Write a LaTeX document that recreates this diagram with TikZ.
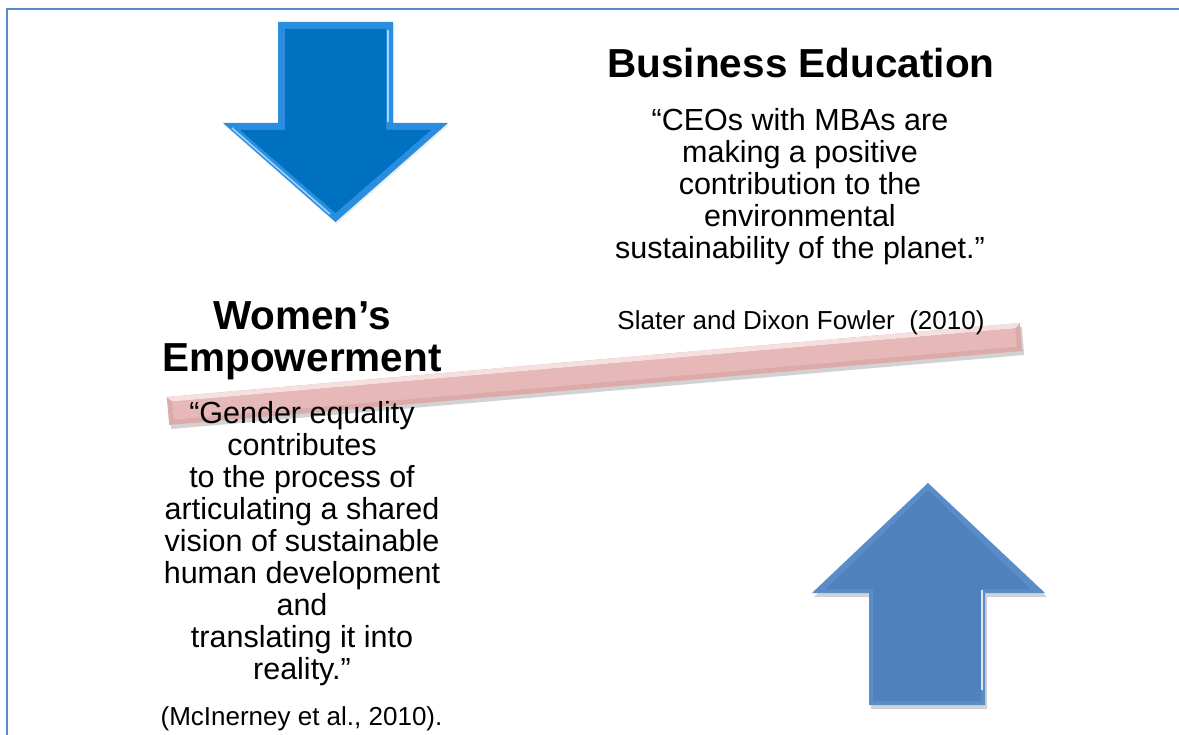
\documentclass[tikz,border=0pt]{standalone}
\usepackage{fontspec}
\setmainfont{Liberation Sans}
\usetikzlibrary{shadows}
\definecolor{frameblue}{HTML}{5B8BC6}
\definecolor{darrow}{HTML}{0070C0}
\definecolor{darrowedge}{HTML}{2A8EE0}
\definecolor{darrowlight}{HTML}{9FD6FF}
\definecolor{uarrow}{HTML}{4F81BD}
\definecolor{uarrowedge}{HTML}{5A8CC8}
\definecolor{beampink}{HTML}{E6B9B8}
\definecolor{beamedge}{HTML}{DCAAA8}
\definecolor{beamlight}{HTML}{F5E0DF}
\begin{document}
\begin{tikzpicture}[x=1pt,y=-1pt,
  quote/.style={font=\fontsize{30.5}{32}\selectfont, align=center, inner sep=0pt},
  heading/.style={font=\fontsize{40.5}{42.5}\selectfont\bfseries, align=center, inner sep=0pt},
  cite/.style={font=\fontsize{26}{27}\selectfont, inner sep=0pt},
  softshadow/.style={drop shadow={shadow xshift=2pt, shadow yshift=-4pt, opacity=0.25, fill=black!70}},
]
\useasboundingbox (0,0) rectangle (1179,735);
\fill[white] (0,0) rectangle (1179,735);
% frame
\draw[frameblue, line width=2.5pt] (7,740) -- (7,9) -- (1185,9);

% down arrow
\fill[darrowedge, drop shadow={shadow xshift=1pt, shadow yshift=-2pt, opacity=0.12, fill=black!60}] (278,22) -- (393,22) -- (393,123) -- (448,123) -- (335.5,222) -- (223,123) -- (278,123) -- cycle;
\fill[darrow] (285,29) -- (386,29) -- (386,130) -- (431,130) -- (335.5,213) -- (240,130) -- (285,130) -- cycle;
\draw[darrowlight, line width=1.5pt] (388,30) -- (388,122);
\draw[darrowlight, line width=1.5pt] (232,128) -- (330,214);

% up arrow
\fill[uarrowedge, softshadow] (928,483) -- (1045,593) -- (985,593) -- (985,705) -- (869,705) -- (869,593) -- (812,593) -- cycle;
\fill[uarrow] (928,490) -- (1030,589) -- (981,589) -- (981,701) -- (873,701) -- (873,589) -- (826,589) -- cycle;
\draw[white!80!uarrow, line width=1.2pt] (982,590) -- (982,690);

% beam
\fill[beamedge, softshadow] (166.8,397) -- (1019.8,323) -- (1022.2,351) -- (169.2,425) -- cycle;
\fill[beamlight] (166.8,397) -- (1019.8,323) -- (1015.3,328.4) -- (172.2,401.6) -- cycle;
\fill[beampink] (172.2,401.6) -- (1015.3,328.4) -- (1016.8,346.5) -- (173.8,419.6) -- cycle;

% texts
\node[heading, anchor=base] (behead) at (801,77.5) {Business Education};
\node[quote, anchor=north] (bequote) at (800,108.5) {“CEOs with MBAs are\\making a positive\\contribution to the\\environmental\\sustainability of the planet.”};
\node[cite, anchor=base] (becite) at (801,329.5) {Slater and Dixon Fowler~~(2010)};
\node[heading, anchor=north] (wehead) at (302,301) {Women’s\\Empowerment};
\node[quote, anchor=north] (wequote) at (302,401) {“Gender equality\\contributes\\to the process of\\articulating a shared\\vision of sustainable\\human development\\and\\translating it into\\reality.”};
\node[cite, anchor=base] (wecite) at (301.5,725) {(McInerney et al., 2010).};
\end{tikzpicture}
\end{document}
